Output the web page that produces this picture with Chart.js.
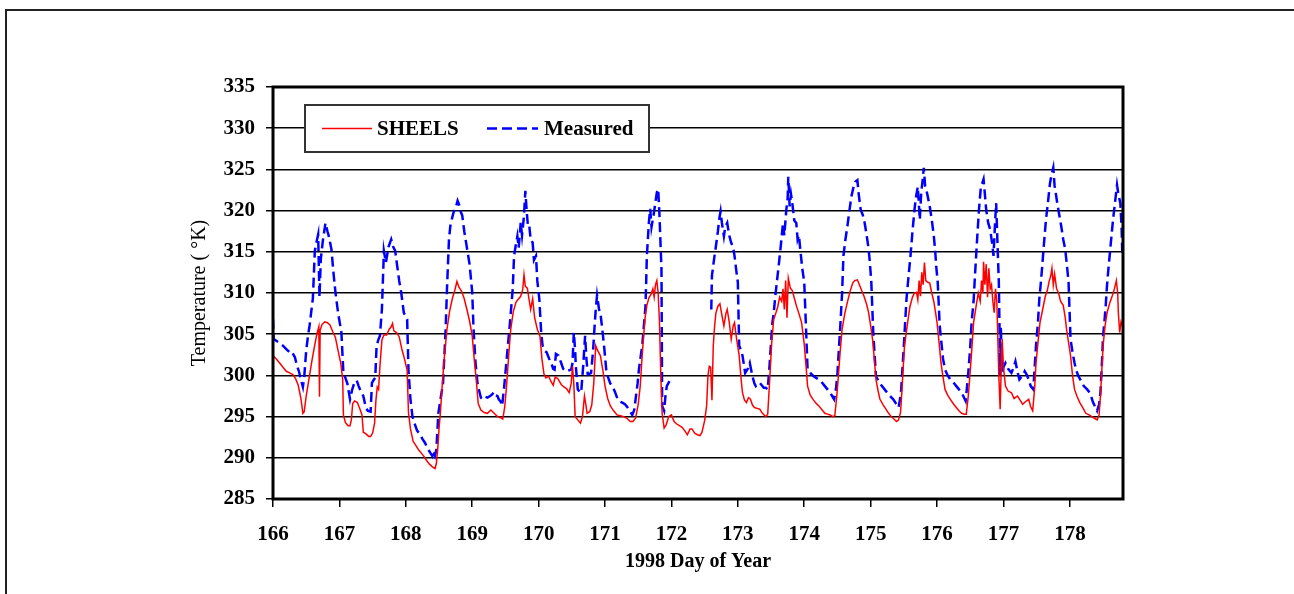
<!DOCTYPE html>
<html>
<head>
<meta charset="utf-8">
<script src="https://cdn.jsdelivr.net/npm/chart.js@4.4.1/dist/chart.umd.min.js"></script>
<style>
  html, body { margin: 0; padding: 0; background: #fff; }
  canvas { display: block; }
</style>
</head>
<body>
<canvas id="tempChart" width="1294" height="594"></canvas>
<script>
const FONT = '"Liberation Serif", "Times New Roman", serif';

const xTitle = "1998 Day of Year";
const yTitle = "Temperature ( \u00B0K)";
const seriesNames = ["SHEELS", "Measured"];

const dayMin = 166;
const dayMax = 178.8;
const tempMin = 285;
const tempMax = 335;

// SHEELS model output
const sheelsDay = [
  166.00,166.05,166.10,166.15,166.20,166.25,166.30,166.34,166.38,166.42,166.45,166.47,166.50,166.54,166.58,166.62,166.66,166.69,166.70,166.71,
  166.74,166.78,166.82,166.86,166.90,166.94,166.98,167.02,167.05,167.06,167.09,167.13,167.16,167.18,167.20,167.23,167.27,167.31,167.34,167.36,
  167.40,167.44,167.47,167.50,167.53,167.55,167.57,167.59,167.61,167.64,167.67,167.71,167.75,167.78,167.80,167.82,167.86,167.90,167.94,167.98,
  168.02,168.04,168.07,168.11,168.15,168.19,168.23,168.27,168.31,168.36,168.40,168.44,168.46,168.48,168.50,168.52,168.55,168.58,168.62,168.66,
  168.70,168.74,168.77,168.80,168.84,168.88,168.92,168.96,169.00,169.03,169.06,169.09,169.13,169.18,169.23,169.28,169.33,169.38,169.42,169.46,
  169.49,169.52,169.55,169.58,169.62,169.66,169.70,169.73,169.76,169.78,169.80,169.83,169.86,169.88,169.91,169.94,169.98,170.02,170.05,170.08,
  170.11,170.15,170.19,170.22,170.25,170.29,170.34,170.38,170.42,170.46,170.49,170.51,170.53,170.55,170.59,170.63,170.66,170.69,170.71,170.73,
  170.77,170.80,170.83,170.86,170.89,170.93,170.97,171.00,171.04,171.08,171.13,171.18,171.23,171.28,171.33,171.38,171.42,171.46,171.50,171.53,
  171.56,171.60,171.63,171.66,171.69,171.72,171.74,171.76,171.78,171.80,171.82,171.84,171.86,171.89,171.92,171.96,172.00,172.04,172.08,172.12,
  172.16,172.20,172.24,172.28,172.31,172.35,172.39,172.43,172.46,172.50,172.53,172.55,172.57,172.59,172.61,172.63,172.65,172.67,172.70,172.73,
  172.76,172.79,172.82,172.84,172.87,172.90,172.93,172.95,172.98,173.02,173.05,173.07,173.10,173.13,173.16,173.19,173.22,173.25,173.29,173.33,
  173.37,173.42,173.45,173.48,173.51,173.54,173.57,173.60,173.63,173.66,173.68,173.70,173.72,173.74,173.76,173.79,173.82,173.85,173.88,173.92,
  173.96,174.00,174.03,174.05,174.09,174.14,174.18,174.22,174.27,174.31,174.35,174.39,174.43,174.46,174.49,174.51,174.54,174.57,174.61,174.65,
  174.69,174.73,174.76,174.80,174.83,174.86,174.90,174.94,174.97,175.00,175.03,175.06,175.08,175.11,175.14,175.19,175.23,175.27,175.31,175.35,
  175.39,175.42,175.45,175.47,175.49,175.51,175.55,175.59,175.63,175.66,175.69,175.71,175.73,175.75,175.77,175.79,175.81,175.83,175.86,175.89,
  175.92,175.95,175.98,176.00,176.03,176.06,176.09,176.12,176.16,176.20,176.25,176.29,176.33,176.37,176.41,176.44,176.47,176.49,176.52,176.55,
  176.59,176.62,176.65,176.67,176.69,176.70,176.72,176.74,176.76,176.78,176.80,176.82,176.84,176.86,176.88,176.90,176.93,176.95,176.97,176.98,
  177.00,177.03,177.07,177.12,177.16,177.21,177.25,177.29,177.33,177.38,177.41,177.44,177.47,177.49,177.52,177.55,177.59,177.63,177.66,177.69,
  177.71,177.73,177.75,177.77,177.80,177.83,177.86,177.90,177.93,177.95,177.98,178.01,178.04,178.07,178.11,178.15,178.20,178.24,178.29,178.33,
  178.37,178.41,178.44,178.46,178.48,178.50,178.53,178.56,178.60,178.64,178.67,178.70,178.72,178.73,178.75,178.77,178.79
];
const sheelsTemp = [
  302.4,302.0,301.5,301.0,300.5,300.3,300.1,299.6,298.8,297.2,295.4,295.6,297.5,299.5,301.5,303.3,305.0,305.9,297.4,305.5,
  306.2,306.5,306.4,306.1,305.3,304.6,303.0,301.5,299.5,295.2,294.3,293.9,293.9,294.6,296.6,296.9,296.7,295.9,295.2,293.1,
  292.9,292.6,292.6,293.0,294.2,297.0,298.6,298.3,301.1,304.3,304.9,304.9,305.6,305.9,306.3,305.4,305.2,304.7,303.2,302.0,
  300.6,295.5,293.5,292.0,291.5,291.0,290.6,290.2,289.7,289.2,288.9,288.7,289.3,291.0,293.5,295.4,299.0,302.2,305.6,307.8,
  309.3,310.4,311.4,310.7,310.2,309.3,308.0,306.6,304.8,302.0,299.5,296.6,295.8,295.5,295.4,295.8,295.4,295.0,294.9,294.7,
  296.2,299.0,302.5,305.6,307.8,308.9,309.3,309.6,310.4,312.2,310.8,310.6,309.0,308.0,309.3,307.0,305.6,304.8,302.0,300.2,
  299.7,299.9,299.2,298.8,299.8,299.6,298.9,298.6,298.4,297.9,299.0,301.1,299.0,295.0,294.6,294.2,295.0,297.5,296.5,295.4,
  295.6,296.4,299.0,303.6,303.0,302.4,300.5,298.7,297.2,296.3,295.7,295.2,295.1,295.0,294.8,294.4,294.4,294.8,296.5,298.7,
  302.5,306.8,308.5,309.4,309.8,310.5,309.5,311.0,311.5,310.0,306.4,300.0,295.4,293.6,294.0,295.0,295.2,294.4,294.1,293.9,
  293.7,293.3,292.8,293.5,293.5,293.0,292.8,292.7,293.1,294.5,296.3,300.0,301.1,301.0,297.0,303.6,306.0,307.6,308.4,308.7,
  307.3,306.0,307.5,308.0,306.5,304.4,306.0,306.4,304.5,302.4,299.5,297.9,297.0,296.7,297.3,297.1,296.4,296.1,296.0,295.9,
  295.4,295.0,295.3,299.5,304.0,306.8,307.5,308.3,309.5,309.0,310.5,308.0,311.5,307.0,311.8,310.6,310.3,309.4,308.5,307.5,
  306.4,303.8,300.8,298.7,297.6,297.0,296.6,296.3,295.8,295.4,295.3,295.2,295.0,295.1,297.5,299.5,302.8,305.6,307.5,308.9,
  310.2,311.2,311.5,311.6,311.0,310.4,309.6,308.6,307.6,306.0,304.3,301.5,299.5,298.2,297.1,296.4,295.9,295.4,295.0,294.7,
  294.4,294.6,295.5,298.0,301.0,303.6,306.0,308.3,309.5,310.0,310.1,309.2,311.5,309.6,312.5,311.0,313.7,311.5,311.3,311.2,
  310.0,309.0,307.5,306.4,304.0,301.5,299.8,298.3,297.6,297.1,296.5,296.1,295.7,295.4,295.3,295.3,297.5,299.5,302.8,306.4,
  308.5,310.0,309.0,311.5,310.0,313.8,311.0,313.5,309.5,313.0,310.5,311.0,309.0,307.6,310.5,309.0,300.0,295.9,302.0,304.4,
  301.0,298.7,298.1,297.9,297.2,297.5,297.0,296.5,296.8,297.1,296.2,295.7,298.5,301.5,304.0,306.4,308.0,309.6,310.3,311.5,
  312.0,313.0,311.0,312.3,310.5,310.0,309.0,308.5,307.0,305.6,304.0,302.4,300.0,298.3,297.4,296.7,296.0,295.4,295.2,295.0,
  294.8,294.6,295.2,297.5,300.5,303.6,306.0,307.6,308.8,309.7,310.5,311.5,310.0,307.6,305.2,306.5,306.0
];

// Measured surface temperature (null = no data)
const measuredDay = [
  166.00,166.01,166.05,166.10,166.15,166.20,166.25,166.28,166.33,166.36,166.39,166.42,166.45,166.47,166.50,166.53,166.55,166.58,166.60,166.63,
  166.65,166.68,166.70,166.72,166.75,166.79,166.82,166.84,166.88,166.91,166.94,166.98,167.03,167.06,167.09,167.12,167.16,167.19,167.22,167.26,
  167.29,167.32,167.36,167.40,167.43,167.47,167.49,167.52,167.54,167.56,167.59,167.61,167.64,167.67,167.70,167.74,167.78,167.81,167.84,167.87,
  167.90,167.93,167.97,168.02,168.04,168.07,168.10,168.13,168.17,168.21,168.25,168.29,168.33,168.37,168.40,168.42,168.44,168.46,168.49,168.53,
  168.56,168.60,168.62,168.65,168.67,168.70,168.72,168.75,168.78,168.80,168.83,168.85,168.88,168.90,168.93,168.96,169.00,169.02,169.05,169.08,
  169.10,169.13,169.16,169.20,169.23,169.27,169.30,169.33,169.35,169.38,169.40,169.43,169.45,169.48,169.50,169.53,169.56,169.59,169.61,169.63,
  169.66,169.68,169.70,169.73,169.75,169.78,169.80,169.82,169.84,169.86,169.88,169.91,169.93,169.96,169.98,170.01,170.04,170.06,170.09,170.12,
  170.16,170.19,170.22,170.24,170.26,170.30,170.34,170.37,170.41,170.45,170.49,170.51,170.53,170.55,170.56,170.59,170.62,170.64,170.67,170.70,
  170.72,170.74,170.77,170.79,170.82,170.84,170.86,170.88,170.91,170.93,170.96,170.99,171.02,171.04,171.08,171.11,171.15,171.19,171.23,171.26,
  171.30,171.34,171.38,171.41,171.44,171.46,171.49,171.51,171.54,171.56,171.59,171.61,171.63,171.66,171.68,171.70,171.73,171.75,171.78,171.80,
  171.82,171.84,171.85,171.86,171.89,171.91,171.93,171.97,172.30,
  172.60,172.61,172.64,172.67,172.70,172.72,172.74,172.76,172.79,172.81,172.84,172.87,172.90,172.93,172.95,172.98,173.00,173.02,173.05,173.07,
  173.11,173.15,173.18,173.22,173.25,173.27,173.30,173.33,173.36,173.39,173.42,173.45,173.48,173.50,173.52,173.54,173.56,173.59,173.62,173.65,
  173.68,173.70,173.73,173.75,173.76,173.78,173.80,173.82,173.85,173.88,173.90,173.92,173.94,173.97,174.00,174.03,174.05,174.09,174.14,174.18,
  174.22,174.26,174.31,174.35,174.39,174.42,174.45,174.48,174.50,174.52,174.54,174.57,174.59,174.62,174.65,174.68,174.71,174.74,174.77,174.80,
  174.82,174.85,174.88,174.91,174.94,174.97,174.99,175.01,175.04,175.08,175.12,175.17,175.21,175.25,175.29,175.34,175.38,175.42,175.44,175.46,
  175.48,175.50,175.52,175.54,175.57,175.60,175.63,175.66,175.68,175.71,175.74,175.76,175.78,175.80,175.82,175.84,175.86,175.89,175.92,175.95,
  175.97,175.99,176.01,176.04,176.06,176.09,176.12,176.16,176.20,176.25,176.29,176.33,176.37,176.40,176.43,176.45,176.47,176.50,176.52,176.55,
  176.57,176.60,176.63,176.66,176.68,176.70,176.72,176.74,176.77,176.80,176.83,176.85,176.87,176.89,176.91,176.93,176.94,176.95,176.96,176.98,
  177.00,177.03,177.07,177.12,177.15,177.18,177.21,177.24,177.27,177.29,177.32,177.35,177.38,177.41,177.45,177.47,177.49,177.52,177.54,177.56,
  177.58,177.61,177.64,177.67,177.70,177.72,177.75,177.77,177.79,177.81,177.84,177.87,177.90,177.93,177.96,177.98,178.01,178.04,178.07,178.10,
  178.13,178.17,178.21,178.26,178.30,178.33,178.35,178.38,178.41,178.44,178.46,178.48,178.50,178.52,178.54,178.56,178.58,178.61,178.65,178.68,
  178.71,178.73,178.76,178.78,178.79
];
const measuredTemp = [
  306.8,304.4,304.2,303.9,303.6,303.2,302.8,302.9,302.2,301.2,300.5,299.5,298.6,299.8,303.0,305.0,306.0,308.0,309.3,315.1,
  316.0,317.1,309.5,314.1,316.3,318.5,317.5,316.9,315.3,312.5,310.1,307.6,305.2,300.3,299.7,299.0,297.1,298.2,299.0,299.4,
  298.7,298.1,297.5,296.0,295.7,295.6,299.1,299.5,299.7,303.6,304.4,304.8,308.0,315.1,313.7,315.6,316.5,315.6,315.1,313.3,
  311.5,310.1,307.6,306.8,300.7,297.1,295.0,294.2,293.3,292.9,292.3,291.8,291.1,290.6,290.2,290.9,290.3,291.0,295.4,297.5,
  299.0,305.6,310.5,316.5,318.1,319.2,319.8,320.3,321.2,320.8,319.8,319.4,317.5,316.5,315.0,313.5,310.1,305.6,301.5,299.0,
  298.3,297.3,297.1,297.4,297.3,297.5,297.7,298.0,297.6,297.5,297.1,296.8,296.3,298.5,300.3,303.0,305.6,308.5,310.5,314.5,
  316.0,316.9,315.5,318.5,317.0,319.4,322.4,320.0,318.0,318.1,316.5,316.1,314.0,314.5,311.5,309.3,305.0,303.6,303.0,302.8,
  302.0,301.5,300.8,300.7,302.6,302.4,301.5,300.8,300.5,300.6,300.7,301.5,305.2,303.0,301.1,298.3,298.0,297.9,301.0,304.8,
  302.0,300.1,300.2,300.3,303.0,305.6,308.0,309.7,308.0,307.6,305.5,303.2,300.5,299.9,299.0,298.7,298.0,297.1,296.8,296.7,
  296.5,296.1,295.6,295.2,295.8,297.1,299.0,300.7,302.5,303.6,306.5,308.5,314.5,318.5,320.2,318.0,319.4,320.5,322.2,322.6,
  319.4,315.0,312.9,296.3,295.7,297.5,298.7,299.3,null,
  308.0,312.1,314.0,315.7,317.5,319.0,319.9,318.5,316.9,318.0,318.5,317.0,316.1,315.5,314.5,312.5,311.3,303.6,303.0,302.4,
  300.3,300.8,301.5,299.9,299.0,298.7,299.0,299.1,298.8,298.5,298.5,298.3,301.5,304.0,306.4,307.5,309.3,311.5,313.7,316.0,
  318.5,317.0,320.1,321.5,324.1,320.5,322.0,320.9,318.8,318.5,316.5,317.0,315.3,313.0,311.3,305.0,300.7,300.3,299.9,299.7,
  299.5,299.2,298.7,298.3,297.9,297.5,297.1,298.5,300.3,303.0,305.6,310.0,314.5,316.5,318.1,320.0,321.7,322.8,323.5,323.7,
  322.0,320.1,319.5,318.5,317.0,315.3,313.5,311.3,305.0,299.9,299.3,298.7,298.3,297.9,297.5,297.1,296.6,296.1,297.0,298.3,
  301.0,303.6,306.5,309.3,312.0,314.5,317.5,320.1,321.5,322.9,318.9,322.0,323.5,325.2,323.0,322.5,321.7,320.5,318.9,317.0,
  315.3,313.0,311.3,306.0,304.4,302.0,300.7,300.0,299.5,299.1,298.7,298.3,297.9,297.4,296.9,298.5,300.3,303.5,306.4,309.0,
  312.0,316.1,320.0,322.9,323.3,323.8,322.0,320.1,318.5,317.7,316.0,314.5,318.0,320.9,316.0,311.3,306.0,300.0,306.0,300.3,
  301.0,301.5,300.8,300.3,300.9,301.7,300.5,299.5,299.8,299.9,300.5,300.1,299.5,298.7,298.3,301.0,303.6,306.5,309.3,311.0,
  312.9,316.0,318.9,321.0,323.3,324.2,325.2,323.0,322.0,320.9,319.5,318.1,316.5,315.3,313.0,311.3,304.4,302.8,301.5,300.5,
  299.9,299.3,298.7,298.3,297.9,297.2,296.7,296.2,295.7,296.5,297.9,301.0,304.8,306.5,308.5,311.0,312.9,315.5,318.9,321.0,
  323.1,322.0,320.9,317.7,314.5
];

const toPoints = (xs, ys) => xs.map((x, i) => ({ x: x, y: ys[i] }));

// white page with the thin frame at top and left
const pageFrame = {
  id: "pageFrame",
  beforeDraw(chart) {
    const c = chart.ctx;
    c.save();
    c.fillStyle = "#fff";
    c.fillRect(0, 0, chart.width, chart.height);
    c.strokeStyle = "#222";
    c.lineWidth = 2;
    c.beginPath();
    c.moveTo(6, chart.height);
    c.lineTo(6, 10);
    c.lineTo(chart.width, 10);
    c.stroke();
    c.restore();
  }
};

// heavy border round the plot and the boxed legend inside it
const plotBox = {
  id: "plotBox",
  afterDatasetsDraw(chart) {
    const c = chart.ctx;
    const a = chart.chartArea;
    c.save();
    c.strokeStyle = "#000";
    c.lineWidth = 3;
    c.strokeRect(a.left, a.top, a.right - a.left, a.bottom - a.top);

    const bx = a.left + 32, by = a.top + 18, bw = 344, bh = 47;
    const cy = by + bh / 2;
    c.fillStyle = "#fff";
    c.fillRect(bx, by, bw, bh);
    c.strokeStyle = "#333";
    c.lineWidth = 2;
    c.strokeRect(bx, by, bw, bh);

    c.font = "bold 21px " + FONT;
    c.fillStyle = "#000";
    c.textBaseline = "middle";
    const items = [
      { ds: chart.data.datasets[0], x0: bx + 17, x1: bx + 67, tx: bx + 72 },
      { ds: chart.data.datasets[1], x0: bx + 182, x1: bx + 233, tx: bx + 239 }
    ];
    items.forEach(it => {
      c.strokeStyle = it.ds.borderColor;
      c.lineWidth = it.ds.borderWidth;
      c.setLineDash(it.ds.borderDash || []);
      c.beginPath();
      c.moveTo(it.x0, cy);
      c.lineTo(it.x1, cy);
      c.stroke();
      c.setLineDash([]);
      c.fillText(it.ds.label, it.tx, cy + 1);
    });
    c.restore();
  }
};

const ctx = document.getElementById("tempChart").getContext("2d");

new Chart(ctx, {
  type: "line",
  data: {
    datasets: [{
      label: seriesNames[0],
      data: toPoints(sheelsDay, sheelsTemp),
      borderColor: "#ff0000",
      borderWidth: 1.5,
      pointRadius: 0,
      tension: 0
    }, {
      label: seriesNames[1],
      data: toPoints(measuredDay, measuredTemp),
      borderColor: "#0000ff",
      borderWidth: 2.5,
      borderDash: [10, 5],
      pointRadius: 0,
      tension: 0,
      spanGaps: false
    }]
  },
  options: {
    responsive: false,
    animation: false,
    devicePixelRatio: 1,
    layout: { padding: { left: 188, top: 87, right: 171, bottom: 20 } },
    plugins: {
      legend: { display: false },
      tooltip: { enabled: false }
    },
    scales: {
      x: {
        type: "linear",
        min: dayMin,
        max: dayMax,
        afterFit: s => { s.height = 75; },
        border: { display: false },
        grid: { drawOnChartArea: false, drawTicks: true, tickLength: 8, color: "#000", lineWidth: 1.5 },
        ticks: {
          stepSize: 1,
          includeBounds: false,
          maxRotation: 0,
          padding: 15,
          color: "#000",
          font: { family: FONT, size: 21, weight: "bold" }
        },
        title: {
          display: true,
          text: xTitle,
          color: "#000",
          padding: 0,
          font: { family: FONT, size: 20, weight: "bold" }
        }
      },
      y: {
        min: tempMin,
        max: tempMax,
        afterFit: s => { s.width = 85; },
        border: { display: false },
        grid: { color: "#000", lineWidth: 1.5, tickLength: 7 },
        ticks: {
          stepSize: 5,
          padding: 11,
          color: "#000",
          font: { family: FONT, size: 21, weight: "bold" }
        },
        title: {
          display: true,
          text: yTitle,
          color: "#000",
          padding: 0,
          font: { family: FONT, size: 20, weight: "normal" }
        }
      }
    }
  },
  plugins: [pageFrame, plotBox]
});
</script>
</body>
</html>
